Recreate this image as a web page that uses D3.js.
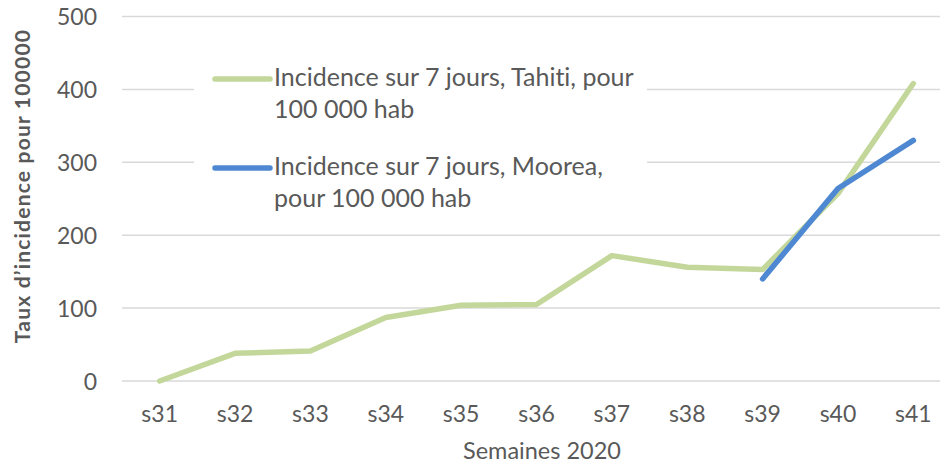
<!DOCTYPE html>
<html>
<head>
<meta charset="utf-8">
<script src="https://cdn.jsdelivr.net/npm/d3@7"></script>
<style>
  body { margin: 0; background: #fff; }
  svg { display: block; font-family: Lato, "Open Sans", sans-serif; font-variant-ligatures: none; }
  .axis path, .axis line { display: none; }
  .axis text { fill: #595959; font-size: 23px; font-family: Lato, sans-serif; }
</style>
</head>
<body>
<div id="wrapper"></div>
<script>
const weeks = ["s31", "s32", "s33", "s34", "s35", "s36", "s37", "s38", "s39", "s40", "s41"];
const tahiti = [0, 38, 41, 87, 104, 105, 172, 156, 153, 257, 408];
const moorea = [null, null, null, null, null, null, null, null, 140, 264, 330];
const yTicks = [0, 100, 200, 300, 400, 500];

const seriesNames = [
  ["Incidence sur 7 jours, Tahiti, pour", "100 000 hab"],
  ["Incidence sur 7 jours, Moorea,", "pour 100 000 hab"]
];
const seriesColors = ["#c4d79b", "#4f88d2"];

const w = 940, h = 466;
const svg = d3.select("#wrapper").append("svg")
              .attr("width", w)
              .attr("height", h);

let xScale = d3.scaleBand()
               .domain(weeks)
               .range([122, 951]);

let yScale = d3.scaleLinear()
               .domain([0, 500])
               .range([381, 16.5]);

// gridlines
svg.append("g")
   .selectAll("line")
   .data(yTicks)
   .enter()
   .append("line")
   .attr("x1", 122)
   .attr("x2", w)
   .attr("y1", d => yScale(d))
   .attr("y2", d => yScale(d))
   .attr("stroke", "#d9d9d9")
   .attr("stroke-width", 1.5);

let yAxisFunction = d3.axisLeft(yScale)
                      .tickValues(yTicks)
                      .tickSize(0)
                      .tickPadding(0);

svg.append("g")
   .attr("class", "axis")
   .attr("transform", "translate(97, 0)")
   .call(yAxisFunction)
   .selectAll("text")
   .attr("dy", "0.36em");

let xAxisFunction = d3.axisBottom(xScale)
                      .tickSize(0)
                      .tickPadding(0);

svg.append("g")
   .attr("class", "axis")
   .attr("transform", "translate(0, 406)")
   .call(xAxisFunction)
   .selectAll("text")
   .attr("dy", "0.71em");

svg.append("text")
   .attr("x", 542)
   .attr("y", 459)
   .style("text-anchor", "middle")
   .style("fill", "#595959")
   .style("font-size", "23.5px")
   .text("Semaines 2020");

svg.append("text")
   .attr("transform", "rotate(-90)")
   .attr("x", -186)
   .attr("y", 30)
   .style("text-anchor", "middle")
   .style("fill", "#595959")
   .style("font-size", "21px")
   .style("font-weight", "700")
   .style("letter-spacing", "1.2px")
   .text("Taux d\u2019incidence pour 100000");

// legend box (hides gridlines behind it)
svg.append("rect")
   .attr("x", 194)
   .attr("y", 55)
   .attr("width", 453)
   .attr("height", 165)
   .attr("fill", "#fff");

const x = d => xScale(d) + xScale.bandwidth() / 2;

const dMaker = d3.line()
                 .defined(d => d.v != null)
                 .x(d => x(d.week))
                 .y(d => yScale(d.v));

[tahiti, moorea].forEach((vals, i) => {
  svg.append("path")
     .datum(weeks.map((wk, j) => ({week: wk, v: vals[j]})))
     .attr("d", dMaker)
     .attr("fill", "none")
     .attr("stroke", seriesColors[i])
     .attr("stroke-width", 5.5)
     .attr("stroke-linejoin", "round")
     .attr("stroke-linecap", "round");
});

const legendY = [79, 168];
let legend = svg.append("g")
                .selectAll("g")
                .data(seriesNames)
                .enter()
                .append("g")
                .attr("transform", (d, i) => `translate(0, ${legendY[i]})`);

legend.append("line")
      .attr("x1", 215)
      .attr("x2", 270)
      .attr("stroke", (d, i) => seriesColors[i])
      .attr("stroke-width", 5.5)
      .attr("stroke-linecap", "round");

legend.append("text")
      .style("fill", "#595959")
      .style("font-size", "25px")
      .selectAll("tspan")
      .data(d => d)
      .enter()
      .append("tspan")
      .attr("x", 274)
      .attr("y", (d, i) => 7 + i * 32)
      .text(d => d);
</script>
</body>
</html>
